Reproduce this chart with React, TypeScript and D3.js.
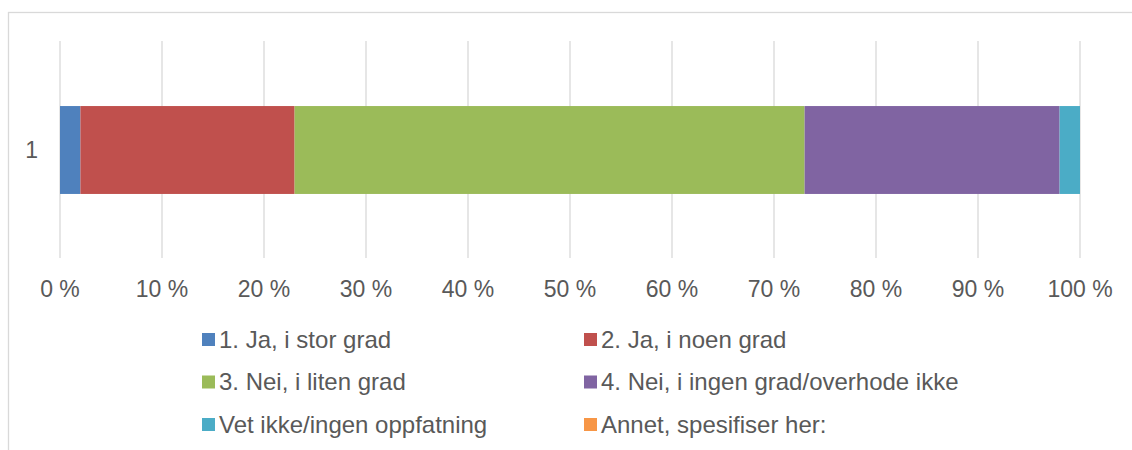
import React from "react";
import * as d3 from "d3";

const categories = ["1"];
const seriesNames = [
  "1. Ja, i stor grad",
  "2. Ja, i noen grad",
  "3. Nei, i liten grad",
  "4. Nei, i ingen grad/overhode ikke",
  "Vet ikke/ingen oppfatning",
  "Annet, spesifiser her:",
];
const seriesValues = [2, 21, 50, 25, 2, 0];
const seriesColors = ["#4f81bd", "#c0504d", "#9bbb59", "#8064a2", "#4bacc6", "#f79646"];
const tickValues = [0, 10, 20, 30, 40, 50, 60, 70, 80, 90, 100];

const W = 1132;
const H = 450;

export default function App() {
  const x = d3.scaleLinear().domain([0, 100]).range([60, 1080]);
  const y = d3.scaleBand().domain(categories).range([41, 259]).paddingInner(0).paddingOuter(0.74);
  const total = d3.sum(seriesValues);
  const stackData = [Object.fromEntries(seriesNames.map((n, i) => [n, (seriesValues[i] / total) * 100]))];
  const stacked = d3.stack<any>().keys(seriesNames)(stackData as any);
  const font = "Arial, 'Liberation Sans', sans-serif";
  const textColor = "#595959";
  const legendCols = [202, 584];
  const legendRows = [339.5, 382, 424.5];

  return (
    <div style={{ position: "absolute", left: 0, top: 0 }}>
      <svg width={W} height={H} style={{ display: "block" }}>
        <rect x={0} y={0} width={W} height={H} fill="#fff" />
        <rect x={8.5} y={12.5} width={W + 20} height={H + 20} fill="#fff" stroke="#d9d9d9" strokeWidth={1.3} />
        {tickValues.map((t) => (
          <line key={t} x1={x(t)} x2={x(t)} y1={41} y2={258} stroke="#d9d9d9" strokeWidth={1.3} />
        ))}
        {stacked.map((s, i) =>
          s.map((d, j) => (
            <rect
              key={`${i}-${j}`}
              x={x(d[0])}
              y={y(categories[j])!}
              width={Math.max(0, x(d[1]) - x(d[0]))}
              height={y.bandwidth()}
              fill={seriesColors[i]}
            />
          ))
        )}
        {categories.map((c) => (
          <text key={c} x={38} y={y(c)! + y.bandwidth() / 2} dy="0.35em" textAnchor="end" fontFamily={font} fontSize={23} fill={textColor}>
            {c}
          </text>
        ))}
        {tickValues.map((t) => (
          <text key={t} x={x(t)} y={297} textAnchor="middle" fontFamily={font} fontSize={23} fill={textColor}>
            {`${t} %`}
          </text>
        ))}
        {seriesNames.map((n, i) => {
          const cx = legendCols[i % 2];
          const cy = legendRows[Math.floor(i / 2)];
          return (
            <g key={n}>
              <rect x={cx} y={cy - 6.5} width={13} height={13} fill={seriesColors[i]} />
              <text x={cx + 17} y={cy} dy="0.35em" fontFamily={font} fontSize={24} fill={textColor}>
                {n}
              </text>
            </g>
          );
        })}
      </svg>
    </div>
  );
}
